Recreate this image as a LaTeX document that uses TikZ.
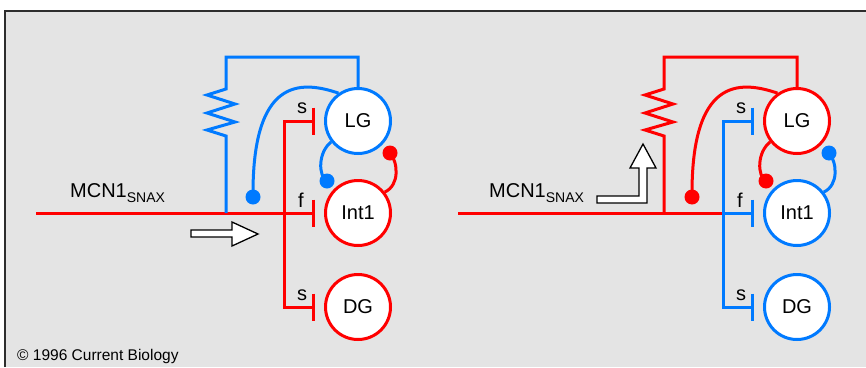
\documentclass[tikz,border=0pt]{standalone}
\usepackage{fontspec}
\setmainfont{Liberation Sans}
\usepackage{tikz}
\usetikzlibrary{arrows.meta}
\definecolor{cellRed}{RGB}{255, 0, 0}
\definecolor{cellBlue}{RGB}{0, 122, 255}
\definecolor{panelGray}{RGB}{228, 228, 228}
\definecolor{frameDark}{RGB}{45, 45, 45}

\begin{document}
\begin{tikzpicture}[
  x=1pt, y=-1pt,
  neuron/.style={circle, draw, line width=3pt, fill=white, inner sep=0pt, minimum size=65pt, font=\fontsize{20}{24}\selectfont},
  onRed/.style={neuron, draw=cellRed},
  onBlue/.style={neuron, draw=cellBlue},
  wire/.style={line width=3pt},
  syn/.style={wire, -{Bar[width=27pt]}, shorten >=9pt},
  synboth/.style={wire, {Bar[width=27pt]}-{Bar[width=27pt]}, shorten <=9pt, shorten >=9pt},
  knob/.style={circle, inner sep=0pt, minimum size=15pt},
  tag/.style={font=\fontsize{20}{24}\selectfont, inner sep=0pt},
  hollow/.style={draw=black, fill=white, line width=1.3pt, line join=miter}
]
  \useasboundingbox (0,0) rectangle (866,367);

  % Frame
  \fill[white] (0,0) rectangle (866,367);
  \fill[panelGray] (4,10) rectangle (866,367);
  \draw[frameDark, line width=2pt] (4.5,367) -- (4.5,10.5) -- (866,10.5);

  % Left panel
  \node[onBlue] (lgA) at (358,121) {LG};
  \node[onRed] (intA) at (358,213) {Int1};
  \node[onRed] (dgA) at (358,307) {DG};
  \coordinate (inA) at (36,213);
  \coordinate (tapA) at (226,213);
  \coordinate (jA) at (284,213);
  \node[knob, fill=cellBlue] (dotA1) at (253,197) {};
  \node[knob, fill=cellBlue] (dotA2) at (327,181) {};
  \node[knob, fill=cellRed] (dotA3) at (390,153) {};

  \draw[syn, cellRed] (inA) -- (intA.west);
  \draw[synboth, cellRed] (lgA.west) -| (jA) |- (dgA.west);
  \draw[wire, cellBlue] (tapA) -- (226,136) -- ++(-19,-6) -- ++(28,-8) -- ++(-28,-9)
    -- ++(28,-9) -- ++(-28,-9) -- (226,89) -- (226,57) -| (lgA.north);
  \draw[wire, cellBlue] (lgA.125) .. controls (300,80) and (252,78) .. (dotA1.center);
  \draw[wire, cellBlue] (lgA.218) .. controls (318,152) and (318,176) .. (dotA2.center);
  \draw[wire, cellRed] (intA.38) .. controls (400,185) and (398,162) .. (dotA3.center);

  \node[tag] (sA1) at (302,108.5) {s};
  \node[tag] (fA) at (301,200) {f};
  \node[tag] (sA2) at (302,295.5) {s};
  \node[tag, anchor=base west] (mcnA) at (70,197) {MCN1{\fontsize{14}{16}\selectfont\raisebox{-5pt}{SNAX}}};
  \draw[hollow] (191,230) -- (232,230) -- (232,222) -- (258,234) -- (232,246) -- (232,237) -- (191,237) -- cycle;

  % Right panel
  \node[onRed] (lgB) at (797,121) {LG};
  \node[onBlue] (intB) at (797,213) {Int1};
  \node[onBlue] (dgB) at (797,307) {DG};
  \coordinate (inB) at (458,213);
  \coordinate (tapB) at (664,213);
  \coordinate (jB) at (723,213);
  \node[knob, fill=cellRed] (dotB1) at (692,197) {};
  \node[knob, fill=cellRed] (dotB2) at (766,181) {};
  \node[knob, fill=cellBlue] (dotB3) at (829,153) {};

  \draw[wire, cellRed] (inB) -- (jB);
  \draw[synboth, cellBlue] (lgB.west) -| (jB) |- (dgB.west);
  \draw[syn, cellBlue] (jB) -- (intB.west);
  \draw[wire, cellRed] (tapB) -- (664,136) -- ++(-19,-6) -- ++(28,-8) -- ++(-28,-9)
    -- ++(28,-9) -- ++(-28,-9) -- (664,89) -- (664,57) -| (lgB.north);
  \draw[wire, cellRed] (lgB.125) .. controls (739,80) and (691,78) .. (dotB1.center);
  \draw[wire, cellRed] (lgB.218) .. controls (757,152) and (757,176) .. (dotB2.center);
  \draw[wire, cellBlue] (intB.38) .. controls (839,185) and (837,162) .. (dotB3.center);

  \node[tag] (sB1) at (741,108.5) {s};
  \node[tag] (fB) at (740,200) {f};
  \node[tag] (sB2) at (741,295.5) {s};
  \node[tag, anchor=base west] (mcnB) at (489,197) {MCN1{\fontsize{14}{16}\selectfont\raisebox{-5pt}{SNAX}}};
  \draw[hollow] (597,196) -- (639,196) -- (639,168) -- (630,168) -- (643,144) -- (656,168)
    -- (647,168) -- (647,203) -- (597,203) -- cycle;

  % Credit
  \node[anchor=base west, inner sep=0pt, font=\fontsize{15.5}{18}\selectfont] (credit) at (17,360) {\textcopyright{} 1996 Current Biology};
\end{tikzpicture}
\end{document}
